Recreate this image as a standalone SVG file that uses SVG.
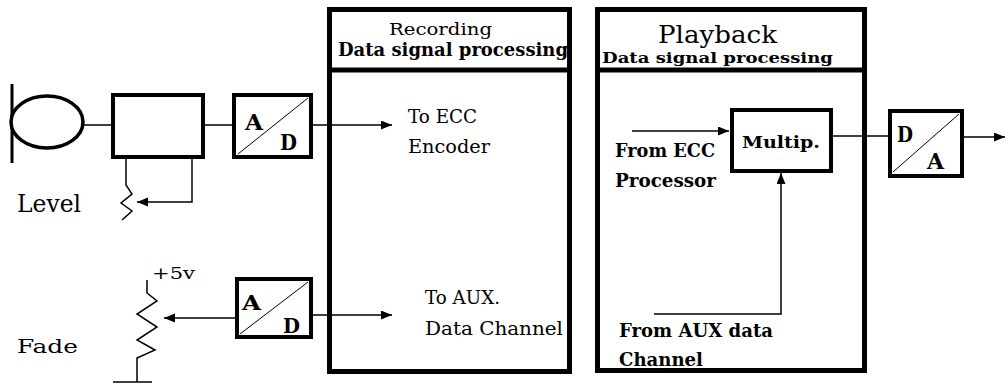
<svg xmlns="http://www.w3.org/2000/svg" width="1005" height="383" viewBox="0 0 1005 383">
<style>
text{font-family:"DejaVu Serif","Liberation Serif","Times New Roman",serif;fill:#000}
.b{font-weight:bold}
.box{fill:#fff;stroke:#000;stroke-width:4}
.big{fill:none;stroke:#000;stroke-width:5}
.ln{fill:none;stroke:#000;stroke-width:1.5}
.thin{fill:none;stroke:#000;stroke-width:1}
</style>
<defs>
<marker id="ar" markerUnits="userSpaceOnUse" markerWidth="12" markerHeight="10" refX="11" refY="4.5" orient="auto">
<path d="M0,0 L11,4.5 L0,9 z" fill="#000"/>
</marker>
</defs>
<rect width="1005" height="383" fill="#fff"/>

<g id="connectors">
<line class="ln" x1="83" y1="125" x2="111" y2="125"/>
<line class="ln" x1="205" y1="125" x2="232" y2="125"/>
<line class="ln" x1="313" y1="125" x2="392" y2="125" marker-end="url(#ar)"/>
<line class="ln" x1="313" y1="315" x2="392" y2="315" marker-end="url(#ar)"/>
<line class="ln" x1="235" y1="318" x2="164" y2="318" marker-end="url(#ar)"/>
<polyline class="ln" points="192,159 192,202 137,202" marker-end="url(#ar)"/>
<line class="ln" x1="632" y1="131" x2="729" y2="131" marker-end="url(#ar)"/>
<polyline class="ln" points="654,314 781,314 781,173" marker-end="url(#ar)"/>
<line class="ln" x1="833" y1="136" x2="888" y2="136"/>
<line class="ln" x1="964" y1="137" x2="1005" y2="137" marker-end="url(#ar)"/>
</g>

<g id="mic">
<line x1="12" y1="84" x2="12" y2="163" stroke="#000" stroke-width="3"/>
<ellipse cx="47" cy="122" rx="36" ry="26" fill="#fff" stroke="#000" stroke-width="3.5"/>
</g>

<g id="preamp">
<rect class="box" x="113" y="95" width="90" height="62"/>
</g>

<g id="level-pot">
<polyline class="ln" points="126,159 126,185 132,194 121,203 132,211 122,220"/>
<text x="17" y="212" font-size="25" textLength="64" lengthAdjust="spacingAndGlyphs">Level</text>
</g>

<g id="ad1">
<rect class="box" x="234" y="95" width="77" height="62"/>
<line class="thin" x1="238" y1="154" x2="308" y2="98"/>
<text class="b" x="245" y="130" font-size="23" textLength="18" lengthAdjust="spacingAndGlyphs">A</text>
<text class="b" x="280" y="150" font-size="23" textLength="17" lengthAdjust="spacingAndGlyphs">D</text>
</g>

<g id="fade-pot">
<text x="152" y="279" font-size="17" textLength="43" lengthAdjust="spacingAndGlyphs">+5v</text>
<polyline class="ln" points="147,280 147,293 157,301 137,314 157,327 137,340 155,350 137,358 137,382"/>
<line class="ln" x1="113" y1="382" x2="152" y2="382"/>
<text x="17" y="353" font-size="19" textLength="61" lengthAdjust="spacingAndGlyphs">Fade</text>
</g>

<g id="ad2">
<rect class="box" x="237" y="279" width="74" height="58"/>
<line class="thin" x1="240" y1="334" x2="308" y2="282"/>
<text class="b" x="242" y="310" font-size="21" textLength="19" lengthAdjust="spacingAndGlyphs">A</text>
<text class="b" x="283" y="333" font-size="21" textLength="17" lengthAdjust="spacingAndGlyphs">D</text>
</g>

<g id="recording">
<rect class="big" x="329.5" y="9.5" width="240" height="362"/>
<line class="big" x1="329.5" y1="70" x2="569.5" y2="70"/>
<text x="389" y="35" font-size="17" textLength="103" lengthAdjust="spacingAndGlyphs">Recording</text>
<text class="b" x="338" y="56" font-size="18" textLength="230" lengthAdjust="spacingAndGlyphs">Data signal processing</text>
<text x="408" y="123" font-size="19" textLength="69" lengthAdjust="spacingAndGlyphs">To ECC</text>
<text x="408" y="153" font-size="19" textLength="82" lengthAdjust="spacingAndGlyphs">Encoder</text>
<text x="425" y="304" font-size="19" textLength="75" lengthAdjust="spacingAndGlyphs">To AUX.</text>
<text x="425" y="335" font-size="19" textLength="138" lengthAdjust="spacingAndGlyphs">Data Channel</text>
</g>

<g id="playback">
<rect class="big" x="597.5" y="9.5" width="267" height="361"/>
<line class="big" x1="597.5" y1="70" x2="864.5" y2="70"/>
<text x="658" y="43" font-size="24" textLength="119" lengthAdjust="spacingAndGlyphs">Playback</text>
<text class="b" x="602" y="63" font-size="15" textLength="231" lengthAdjust="spacingAndGlyphs">Data signal processing</text>
<text class="b" x="615" y="157" font-size="19" textLength="100" lengthAdjust="spacingAndGlyphs">From ECC</text>
<text class="b" x="615" y="187" font-size="19" textLength="101" lengthAdjust="spacingAndGlyphs">Processor</text>
<text class="b" x="619" y="337" font-size="19" textLength="154" lengthAdjust="spacingAndGlyphs">From AUX data</text>
<text class="b" x="619" y="366" font-size="19" textLength="84" lengthAdjust="spacingAndGlyphs">Channel</text>
</g>

<g id="multip">
<rect class="box" x="732" y="110" width="99" height="61"/>
<text class="b" x="742" y="148" font-size="16" textLength="78" lengthAdjust="spacingAndGlyphs">Multip.</text>
</g>

<g id="da">
<rect class="box" x="890" y="111" width="72" height="65"/>
<line class="thin" x1="893" y1="172" x2="959" y2="114"/>
<text class="b" x="897" y="142" font-size="23" textLength="16" lengthAdjust="spacingAndGlyphs">D</text>
<text class="b" x="927" y="169" font-size="23" textLength="17" lengthAdjust="spacingAndGlyphs">A</text>
</g>
</svg>
